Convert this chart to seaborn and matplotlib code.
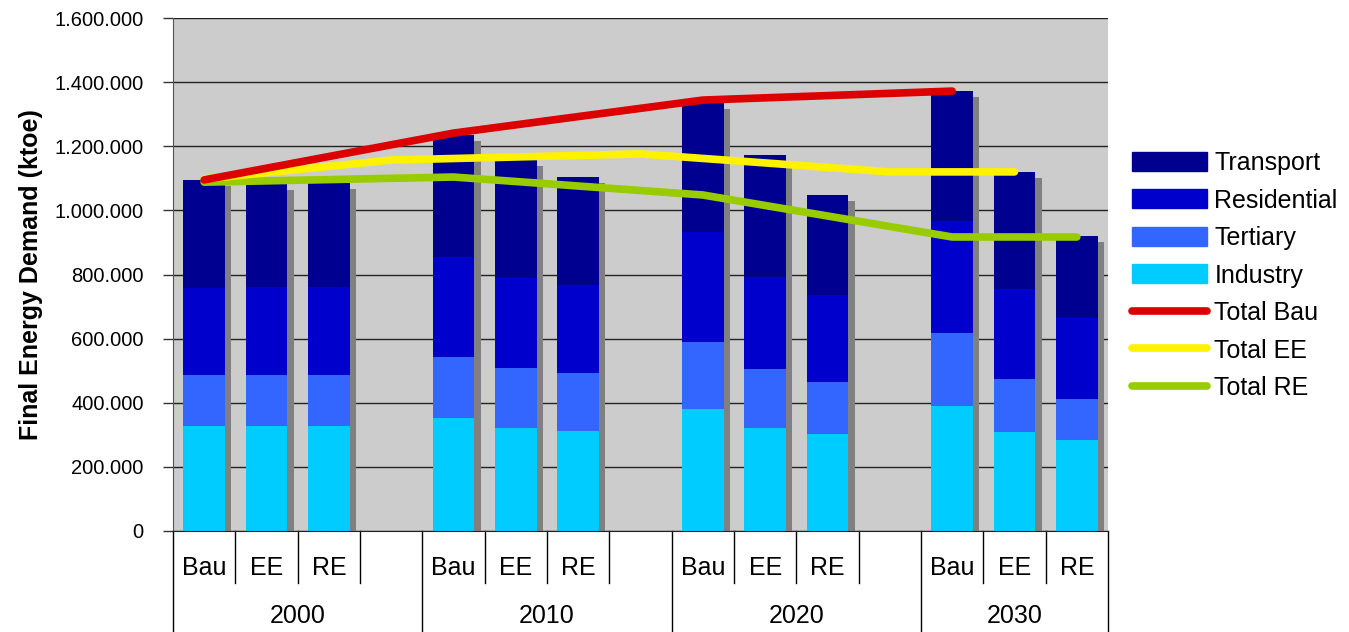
import numpy as np
import pandas as pd
import matplotlib
matplotlib.use("Agg")
import matplotlib.pyplot as plt
import matplotlib.transforms as mtransforms
from matplotlib.patches import Patch
from matplotlib.lines import Line2D
import seaborn as sns

# Data (ktoe)
years = ["2000", "2010", "2020", "2030"]
scenarios = ["Bau", "EE", "RE"]
industry = [327000, 327000, 327000, 352000, 321000, 313000, 380000, 321000, 302000, 390000, 309000, 284000]
tertiary = [160000, 160000, 160000, 192000, 188000, 180000, 210000, 184000, 163000, 227000, 165000, 128000]
residential = [272000, 274000, 274000, 311000, 280000, 274000, 343000, 287000, 271000, 350000, 281000, 252000]
transport = [336000, 320000, 323000, 380000, 367000, 337000, 401000, 381000, 312000, 405000, 365000, 256000]

# total lines: slot index on the category axis and value
bau_slots = [0, 4, 8, 12]
bau_total = [1095000, 1241000, 1344000, 1372000]
ee_slots = [0, 3, 7, 11, 13]
ee_total = [1098000, 1157000, 1176000, 1120000, 1120000]
re_slots = [0, 4, 8, 12, 14]
re_total = [1088000, 1104000, 1048000, 917000, 917000]

sectors = ["Industry", "Tertiary", "Residential", "Transport"]
colors = {"Industry": "#00CCFF", "Tertiary": "#3366FF",
          "Residential": "#0000CC", "Transport": "#000090"}

# one row per bar, 4 slots per year (last one left empty)
pos = [4 * g + s for g in range(len(years)) for s in range(len(scenarios))]
df = pd.DataFrame({"pos": pos, "Industry": industry, "Tertiary": tertiary,
                   "Residential": residential, "Transport": transport})
cum = df[sectors].cumsum(axis=1)
cum["pos"] = df["pos"]

plt.rcParams["font.family"] = ["Liberation Sans", "DejaVu Sans"]

fig = plt.figure(figsize=(13.49, 6.32), dpi=100)
ax = fig.add_axes([173 / 1349, 101 / 632, 935 / 1349, 513 / 632])
ax.set_facecolor("#CCCCCC")
ax.set_axisbelow(True)

# shadow behind each stack
sns.barplot(x=cum["pos"] + 0.1, y=cum["Transport"] - 18000, native_scale=True,
            color="#808080", width=0.67, linewidth=0, errorbar=None, ax=ax)
# stacked bars drawn from the top segment down
for s in reversed(sectors):
    sns.barplot(x=cum["pos"], y=cum[s], native_scale=True, color=colors[s],
                saturation=1, width=0.67, linewidth=0, errorbar=None, ax=ax)

sns.lineplot(x=re_slots, y=re_total, color="#99CC00", linewidth=5.5,
             solid_capstyle="round", ax=ax)
sns.lineplot(x=ee_slots, y=ee_total, color="#FFF200", linewidth=5.5,
             solid_capstyle="round", ax=ax)
sns.lineplot(x=bau_slots, y=bau_total, color="#DD0000", linewidth=5.5,
             solid_capstyle="round", ax=ax)

ax.set_xlim(-0.5, 14.5)
ax.set_ylim(0, 1600000)
ax.set_yticks(np.arange(0, 1600001, 200000))
ax.set_yticklabels([f"{int(v):,}".replace(",", ".") for v in ax.get_yticks()], fontsize=14.5)
ax.yaxis.grid(True, color="#222222", linewidth=1)
ax.tick_params(axis="y", length=7, width=1, color="#333333", pad=14)
ax.set_xticks([])
ax.set_xlabel("")
ax.set_ylabel("")
for side in ["top", "right"]:
    ax.spines[side].set_visible(False)
ax.spines["left"].set_color("#555555")
ax.spines["bottom"].set_color("#222222")

# category table under the axis
trans = mtransforms.blended_transform_factory(ax.transData, ax.transAxes)
for g, yr in enumerate(years):
    n = len(scenarios) + (1 if g < len(years) - 1 else 0)
    start = 4 * g - 0.5
    for s, sc in enumerate(scenarios):
        ax.text(4 * g + s, -0.072, sc, transform=trans, ha="center", va="center", fontsize=18)
    for k in range(1, n):
        ax.plot([start + k, start + k], [0, -0.101], transform=trans,
                color="black", lw=1, clip_on=False)
    ax.text(start + len(scenarios) / 2 + (0.5 if n == 4 else 0), -0.165, yr,
            transform=trans, ha="center", va="center", fontsize=18)
    ax.plot([start, start], [0, -0.2], transform=trans, color="black", lw=1, clip_on=False)
ax.plot([14.5, 14.5], [0, -0.2], transform=trans, color="black", lw=1, clip_on=False)

fig.text(0.023, 0.566, "Final Energy Demand (ktoe)", rotation=90, ha="center",
         va="center", fontsize=18, fontweight="bold")

handles = [Patch(color=colors[s]) for s in reversed(sectors)]
handles += [Line2D([], [], color=c, lw=5.5, solid_capstyle="round")
            for c in ["#DD0000", "#FFF200", "#99CC00"]]
labels = list(reversed(sectors)) + ["Total Bau", "Total EE", "Total RE"]
fig.legend(handles, labels, loc="center left", bbox_to_anchor=(0.839, 0.564),
           frameon=False, fontsize=18, handlelength=3.0, handleheight=0.8,
           handletextpad=0.3, labelspacing=0.54, borderpad=0, borderaxespad=0)

fig.savefig("out.png", dpi=100)
